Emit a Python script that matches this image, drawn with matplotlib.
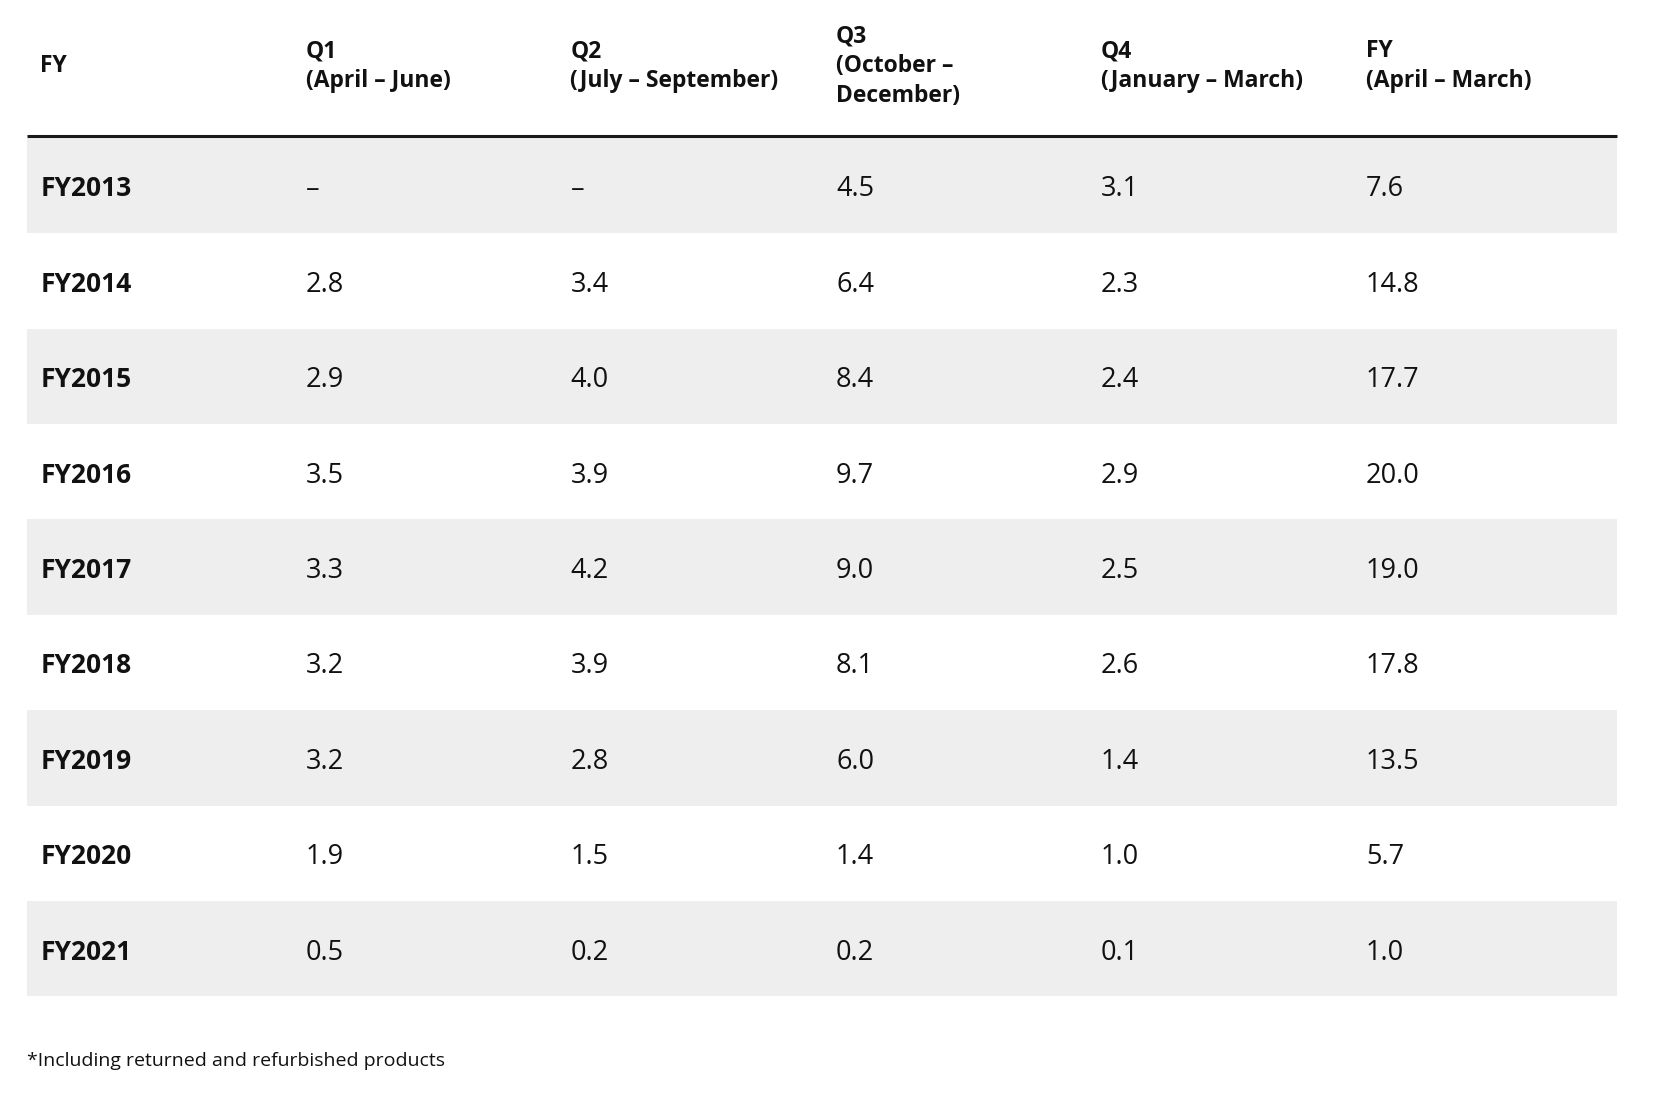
import matplotlib
matplotlib.use("Agg")
import matplotlib.pyplot as plt

# ---- data ----
years = ["FY2013", "FY2014", "FY2015", "FY2016", "FY2017", "FY2018", "FY2019", "FY2020", "FY2021"]
q1 = [None, 2.8, 2.9, 3.5, 3.3, 3.2, 3.2, 1.9, 0.5]
q2 = [None, 3.4, 4.0, 3.9, 4.2, 3.9, 2.8, 1.5, 0.2]
q3 = [4.5, 6.4, 8.4, 9.7, 9.0, 8.1, 6.0, 1.4, 0.2]
q4 = [3.1, 2.3, 2.4, 2.9, 2.5, 2.6, 1.4, 1.0, 0.1]
fy_total = [7.6, 14.8, 17.7, 20.0, 19.0, 17.8, 13.5, 5.7, 1.0]
headers = [["FY"],
           ["Q1", "(April – June)"],
           ["Q2", "(July – September)"],
           ["Q3", "(October –", "December)"],
           ["Q4", "(January – March)"],
           ["FY", "(April – March)"]]
footnote = "*Including returned and refurbished products"

W, H = 1660, 1107
fig = plt.figure(figsize=(W / 100, H / 100), dpi=100)
ax = fig.add_axes([0, 0, 1, 1])
ax.set_xlim(0, W)
ax.set_ylim(H, 0)
ax.axis("off")

font = ["Open Sans", "DejaVu Sans"]
col_x = [40.2, 305.8, 570.4, 836, 1100.5, 1366]
left, right = 26.7, 1617
header_mid = 72.2
header_ls = 30
line_y = 136.3
row_top = 137.7
row_h = 95.4
base_off = 11

# header
for x, lines in zip(col_x, headers):
    n = len(lines)
    for k, s in enumerate(lines):
        by = header_mid - header_ls * (n - 1) / 2 + k * header_ls
        ax.text(x, by, s, ha="left", va="baseline", fontsize=16.5, fontweight="bold",
                family=font, color="#111111")
ax.plot([left, right], [line_y, line_y], color="#1a1a1a", lw=2.2, solid_capstyle="butt")

cols = [q1, q2, q3, q4, fy_total]
for i, yr in enumerate(years):
    top = row_top + i * row_h
    if i % 2 == 0:
        ax.fill_between([left, right], top, top + row_h, color="#eeeeee", lw=0)
    by = top + row_h / 2 + base_off
    ax.text(col_x[0], by, yr, ha="left", va="baseline", fontsize=19, fontweight="bold",
            family=font, color="#111111")
    for j, c in enumerate(cols):
        v = c[i]
        s = "–" if v is None else f"{v:.1f}"
        ax.text(col_x[j + 1], by, s, ha="left", va="baseline", fontsize=19.5,
                family=font, color="#111111")

ax.text(left, 1066, footnote, ha="left", va="baseline", fontsize=14, family=font, color="#111111")

fig.savefig("out.png", dpi=100, facecolor="white")
